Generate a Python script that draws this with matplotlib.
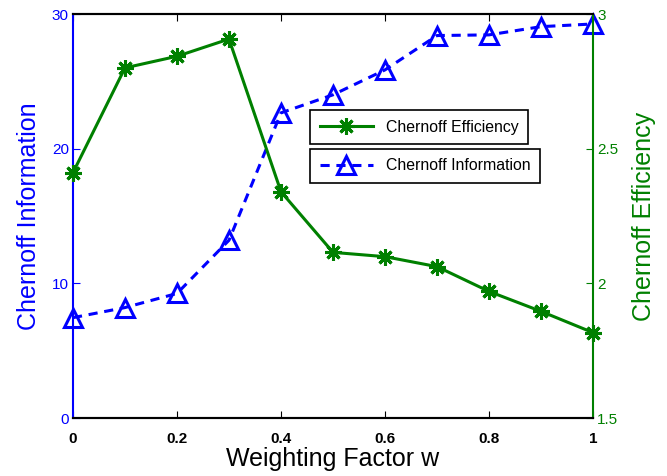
import matplotlib.pyplot as plt

plt.rcParams['font.family'] = ['Liberation Sans', 'DejaVu Sans']

w = [0, 0.1, 0.2, 0.3, 0.4, 0.5, 0.6, 0.7, 0.8, 0.9, 1.0]
chernoff_info = [7.45, 8.2, 9.25, 13.2, 22.66, 24.0, 25.85, 28.4, 28.45, 29.06, 29.26]
chernoff_eff = [2.411, 2.80, 2.843, 2.907, 2.34, 2.115, 2.099, 2.062, 1.97, 1.896, 1.817]

blue = '#0000ff'
green = '#008000'

fig = plt.figure(figsize=(6.67, 4.76), dpi=100)
ax = fig.add_axes([73 / 667, 1 - 418 / 476, 520 / 667, 404 / 476])
ax2 = ax.twinx()

l_info, = ax.plot(w, chernoff_info, color=blue, linestyle='--', dashes=(3, 2.2), linewidth=2.2,
                  marker='^', markersize=13.5, markerfacecolor='none', markeredgewidth=2.2,
                  markeredgecolor=blue, label='Chernoff Information', clip_on=False)
l_eff, = ax2.plot(w, chernoff_eff, color=green, linewidth=2.2, marker=(8, 2, 0),
                  markersize=12, markeredgewidth=2.2, markeredgecolor=green,
                  label='Chernoff Efficiency', clip_on=False)

ax.set_xlim(0, 1)
ax.set_ylim(0, 30)
ax2.set_ylim(1.5, 3)
ax.set_xticks([0, 0.2, 0.4, 0.6, 0.8, 1])
ax.set_xticklabels(['0', '0.2', '0.4', '0.6', '0.8', '1'], fontweight='bold')
ax.set_yticks([0, 10, 20, 30])
ax2.set_yticks([1.5, 2, 2.5, 3])
ax2.set_yticklabels(['1.5', '2', '2.5', '3'])

ax.tick_params(axis='x', direction='in', top=True, length=5, labelsize=11, pad=10, colors='black')
ax.tick_params(axis='y', direction='in', length=5, labelsize=11, colors=blue, pad=3)
ax2.tick_params(axis='y', direction='in', length=5, labelsize=11, colors=green, pad=3)

ax.spines['left'].set_color(blue)
ax.spines['left'].set_linewidth(1.5)
ax2.spines['left'].set_visible(False)
ax.spines['right'].set_visible(False)
ax2.spines['right'].set_color(green)
ax2.spines['right'].set_linewidth(1.5)
for a in (ax, ax2):
    a.spines['top'].set_linewidth(1.5)
    a.spines['bottom'].set_linewidth(1.5)

ax.set_xlabel('Weighting Factor w', fontsize=18, labelpad=1)
ax.set_ylabel('Chernoff Information', fontsize=18, color=blue, labelpad=8)
ax2.set_ylabel('Chernoff Efficiency', fontsize=18, color=green, labelpad=10)

leg1 = ax2.legend(handles=[l_eff], loc='upper left', bbox_to_anchor=(310 / 667, 1 - 110 / 476),
                  bbox_transform=fig.transFigure, borderaxespad=0, fancybox=False,
                  edgecolor='black', framealpha=1, fontsize=11.4, handlelength=3.4,
                  borderpad=0.6)
leg1.get_frame().set_linewidth(1.2)
leg2 = ax2.legend(handles=[l_info], loc='upper left', bbox_to_anchor=(310 / 667, 1 - 149 / 476),
                  bbox_transform=fig.transFigure, borderaxespad=0, fancybox=False,
                  edgecolor='black', framealpha=1, fontsize=11.4, handlelength=3.4,
                  borderpad=0.6)
leg2.get_frame().set_linewidth(1.2)
ax2.add_artist(leg1)

fig.savefig('out.png', dpi=100)
